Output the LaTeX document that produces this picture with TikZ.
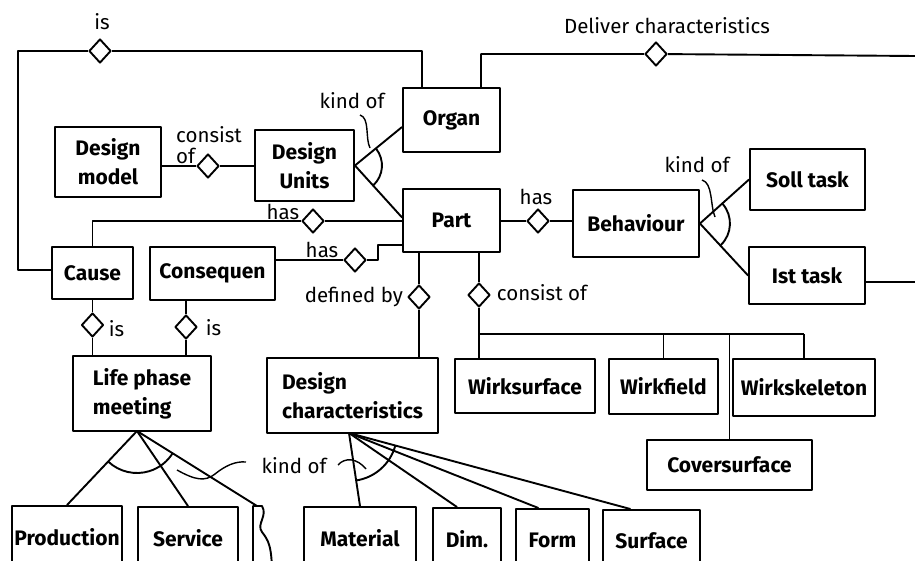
\documentclass[tikz,border=0pt]{standalone}
\usepackage{fontspec}
\setmainfont{Fira Sans}
\usetikzlibrary{calc}
\usetikzlibrary{positioning}
\usetikzlibrary{shapes.geometric}

\begin{document}
\begin{tikzpicture}[%
  x=1pt, y=-1pt,
  line width=1.9pt,
  line join=round,
  entity/.style={draw, rectangle, inner sep=1pt, align=center,
    font=\fontsize{21}{29}\selectfont\bfseries},
  rel/.style={draw, diamond, fill=white, inner sep=0pt,
    minimum width=22pt, minimum height=24pt},
  lbl/.style={inner sep=0pt, font=\fontsize{20.5}{21}\selectfont},
  brace/.style={line width=1.4pt},
]

  \fill[white] (0,0) rectangle (915,561);
  \useasboundingbox (0,0) rectangle (915,561);

  % entities
  \node[entity, minimum width=97pt, minimum height=64pt] (organ) at (451.5,120) {Organ};
  \node[entity, minimum width=106pt, minimum height=70pt] (dmodel) at (108,162) {Design\\model};
  \node[entity, minimum width=99pt, minimum height=71pt] (dunits) at (304.5,165.5) {Design\\Units};
  \node[entity, minimum width=97pt, minimum height=63pt] (part) at (451.5,220.5) {Part};
  \node[entity, minimum width=126pt, minimum height=67pt] (behav) at (636,223.5) {Behaviour};
  \node[entity, minimum width=115pt, minimum height=61pt] (soll) at (807.5,179.5) {Soll task};
  \node[entity, minimum width=116pt, minimum height=57pt] (ist) at (807,275.5) {Ist task};
  \node[entity, minimum width=81pt, minimum height=52pt] (cause) at (92.5,273) {Cause};
  \node[entity, minimum width=125pt, minimum height=53pt] (conseq) at (212.5,273.5) {Consequen};
  \node[entity, minimum width=138pt, minimum height=75pt, align=left] (life) at (142,393.5) {Life phase\\meeting};
  \node[entity, minimum width=171pt, minimum height=75pt, align=left] (dchar) at (352.5,395.5) {Design\\characteristics};
  \node[entity, minimum width=140pt, minimum height=54pt] (wsurf) at (525,386) {Wirksurface};
  \node[entity, minimum width=109pt, minimum height=55pt] (wfield) at (663.5,386.5) {Wirkfield};
  \node[entity, minimum width=142pt, minimum height=57pt] (wskel) at (804,387.5) {Wirkskeleton};
  \node[entity, minimum width=165pt, minimum height=50pt] (cover) at (729.5,465) {Coversurface};

  % bottom row, cut by the page edge
  \node[entity, minimum width=110pt, minimum height=62pt] (prod) at (67,537) {Production};
  \node[entity, minimum width=100pt, minimum height=62pt] (service) at (188,538) {Service};
  \node[entity, minimum width=112pt, minimum height=62pt] (material) at (360,538) {Material};
  \node[entity, minimum width=68pt, minimum height=62pt] (dim) at (467,539) {Dim.};
  \node[entity, minimum width=73pt, minimum height=62pt] (form) at (552.5,540) {Form};
  \node[entity, minimum width=97pt, minimum height=62pt] (surface) at (651.5,541) {Surface};

  % relations
  \node[rel] (isd) at (100,51) {};
  \node[rel] (deld) at (656,54) {};
  \node[rel] (cod) at (208,166) {};
  \node[rel] (hcd) at (313,221) {};
  \node[rel] (hqd) at (355,260) {};
  \node[rel] (hbd) at (538,221) {};
  \node[rel] (dbd) at (419,297) {};
  \node[rel] (cpd) at (479,295) {};
  \node[rel] (icd) at (92.5,325) {};
  \node[rel] (iqd) at (186,327) {};

  \coordinate (isL) at (18,51);
  \coordinate (isR) at (422,51);
  \coordinate (delL) at (481,54);
  \coordinate (delR) at (915,56);
  \coordinate (hqK) at (378,245);
  \coordinate (istR) at (915,282);
  \coordinate (cpL) at (479,334);
  \coordinate (cpR) at (804,334);
  \coordinate (lpA) at (137,431);
  \coordinate (dcA) at (349,433);
  \coordinate (more) at (257,506);

  \draw ([yshift=3pt]cause.west) -| (isL) -- (isd) -- (isR) -- (isR |- organ.north);
  \draw (delL |- organ.north) -- (delL) -- (deld) -- (delR);
  \draw (dmodel.east |- cod) -- (cod) -- (cod -| dunits.west);

  \draw ([yshift=-7pt]organ.west) -- (dunits.east) -- ([yshift=3pt]part.west);
  \draw ([shift={(38.2:27pt)}]dunits.east) arc[start angle=38.2, end angle=-46.7, radius=27pt];

  \draw (hcd) -- (hcd -| part.west);
  \draw (hcd) -| (cause.north);
  \draw (hqd) -- (hqd -| conseq.east);
  \draw (hqd) -| (hqK) -- (hqK -| part.west);
  \draw (part.east |- hbd) -- (hbd) -- (hbd -| behav.west);

  \draw (soll.west) -- (behav.east) -- (ist.west);
  \draw ([shift={(40.8:30pt)}]behav.east) arc[start angle=40.8, end angle=-46.1, radius=30pt];
  \draw (istR -| ist.east) -- (istR);

  \draw (dbd |- part.south) -- (dbd) -- (dbd |- dchar.north);
  \draw (cpd |- part.south) -- (cpd) -- (cpL) -- (cpR);
  \draw (cpL) -- (cpL |- wsurf.north);
  \draw (wfield.north |- cpL) -- (wfield.north);
  \draw (cover.north |- cpL) -- (cover.north);
  \draw (cpR) -- (cpR |- wskel.north);

  \draw (cause.south) -- (icd) -- (icd |- life.north);
  \draw (iqd |- conseq.south) -- (iqd) -- (iqd |- life.north);

  \draw (prod.north) -- (lpA) -- (service.north);
  \draw (lpA) -- (more);
  \draw ([shift={(-133:42pt)}]lpA) arc[start angle=-133, end angle=-32, radius=42pt];
  % broken box
  \draw (253,575) -- (253,506) -- (more) -- (262,506)
    .. controls (268,516) and (256,524) .. (262,532)
    .. controls (268,540) and (272,545) .. (272,575);

  \draw (dcA) -- (material.north);
  \draw (dcA) -- ([xshift=-10pt]dim.north);
  \draw (dcA) -- ([xshift=-14pt]form.north);
  \draw (dcA) -- ([xshift=-21pt]surface.north);
  \draw ([shift={(-81.5:48pt)}]dcA) arc[start angle=-81.5, end angle=-15.3, radius=48pt];

  % labels
  \node[lbl] (islbl) at (102,22) {is};
  \node[lbl] (dellbl) at (667,26) {Deliver characteristics};
  \node[lbl, align=left] (colbl) at (209,145) {consist\\of};
  \node[lbl] (ko1lbl) at (352,101) {kind of};
  \node[lbl] (hclbl) at (283,212) {has};
  \node[lbl] (hqlbl) at (322,250) {has};
  \node[lbl] (hblbl) at (536,197) {has};
  \node[lbl] (ko2lbl) at (697,165) {kind of};
  \node[lbl, anchor=east] (dblbl) at (404,297) {defined by};
  \node[lbl, anchor=west] (cplbl) at (496,293) {consist of};
  \node[lbl, anchor=west] (iclbl) at (108,329) {is};
  \node[lbl, anchor=west] (iqlbl) at (205,328) {is};
  \node[lbl] (ko3lbl) at (294,466) {kind of};

  \draw[brace] (360,115) .. controls (370,118) and (365,138) .. (370,148);
  \draw[brace] (702,180) .. controls (713,183) and (710,205) .. (715,217);
  \draw[brace] (177,470) .. controls (195,480) and (205,482) .. (215,474)
    .. controls (225,466) and (235,461) .. (246,462);
  \draw[brace] (338,465) .. controls (345,457) and (357,458) .. (366,469);

\end{tikzpicture}
\end{document}
